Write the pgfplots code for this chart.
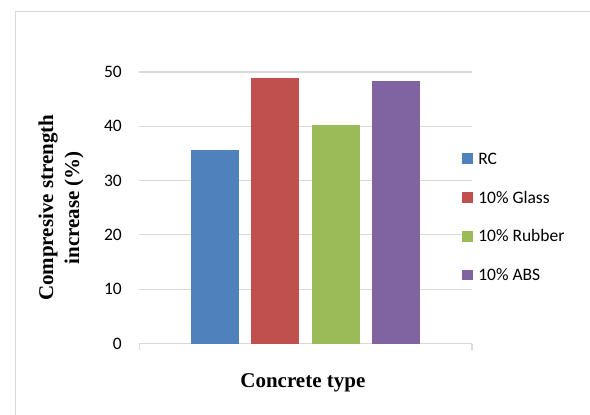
\documentclass[border=0pt]{standalone}
\usepackage{pgfplots}
\pgfplotsset{compat=1.18}
\usepackage{fontspec}
\setmainfont{Liberation Serif}
\newfontfamily\calibri{Carlito}

\definecolor{barBlue}{HTML}{4F81BD}
\definecolor{barRed}{HTML}{C0504D}
\definecolor{barGreen}{HTML}{9BBB59}
\definecolor{barPurple}{HTML}{8064A2}
\definecolor{gridGray}{HTML}{D9D9D9}
\definecolor{frameGray}{HTML}{D9D9D9}

\begin{document}
\begin{tikzpicture}[x=1bp,y=1bp]
\useasboundingbox (0,0) rectangle (590,414);
% chart area frame
\draw[frameGray, line width=1.2bp] (15.8,-10) -- (15.8,402.3) -- (600,402.3);

\begin{axis}[
  at={(139.3bp,70.5bp)}, anchor=south west,
  scale only axis, width=332.7bp, height=271.5bp,
  xmin=-166.35, xmax=166.35, ymin=0, ymax=50,
  axis x line*=bottom, axis y line*=left,
  y axis line style={draw=none},
  x axis line style={gridGray, line width=1.3bp},
  ytick={0,10,20,30,40,50},
  ytick style={draw=none},
  xtick={-166.35,166.35}, xticklabels={,},
  xtick style={gridGray, line width=1.3bp},
  tick align=outside, major tick length=6bp,
  ymajorgrids, grid style={gridGray, line width=1.1bp},
  /pgf/number format/assume math mode=true,
  yticklabel style={font=\calibri\fontsize{17.5bp}{21bp}\selectfont, anchor=east, inner sep=0pt, xshift=-11.3bp},
  xlabel={Concrete type},
  xlabel style={at={(axis description cs:0.4916,-0.1602)}, anchor=base, font=\bfseries\fontsize{21bp}{26bp}\selectfont},
  ylabel={Compresive strength\\increase (\%)},
  ylabel style={at={(axis description cs:-0.2351,0.5)}, anchor=center, rotate=0, align=center, font=\bfseries\fontsize{21bp}{26bp}\selectfont},
  ybar, bar shift=0pt, bar width=48,
  legend style={at={(axis description cs:0.97,0.4665)}, anchor=west, draw=none, fill=none,
    inner sep=0pt, outer sep=0pt, row sep=26bp,
    font=\calibri\fontsize{17.5bp}{21bp}\selectfont,
    nodes={inner sep=0pt, text height=12bp, text depth=0.8bp},
    /tikz/every odd column/.append style={column sep=5.6bp}},
  legend cell align=left,
  legend image code/.code={\fill[#1] (0bp,-5.35bp) rectangle (10.7bp,5.35bp);},
]
\addplot[fill=barBlue, draw=none] coordinates {(-90.6,35.6)};
\addlegendentry{RC}
\addplot[fill=barRed, draw=none] coordinates {(-30.2,48.9)};
\addlegendentry{10\% Glass}
\addplot[fill=barGreen, draw=none] coordinates {(30.2,40.2)};
\addlegendentry{10\% Rubber}
\addplot[fill=barPurple, draw=none] coordinates {(90.6,48.3)};
\addlegendentry{10\% ABS}
\end{axis}
\end{tikzpicture}
\end{document}
